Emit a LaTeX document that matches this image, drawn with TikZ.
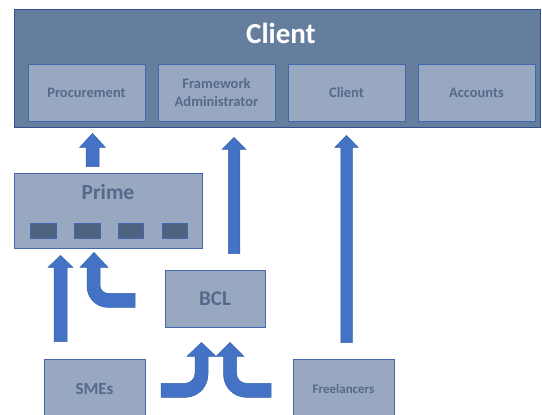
\documentclass[tikz,border=0pt]{standalone}
\usepackage{fontspec}
\setmainfont{Carlito}
\usetikzlibrary{calc}
\definecolor{outerfill}{HTML}{667E9E}
\definecolor{outerline}{HTML}{2F528F}
\definecolor{boxfill}{HTML}{98A8C0}
\definecolor{boxline}{HTML}{4468B0}
\definecolor{boxtext}{HTML}{56698A}
\definecolor{slotfill}{HTML}{4E6380}
\definecolor{arrowfill}{HTML}{4472C4}
\definecolor{arrowline}{HTML}{3562B0}
\newcommand\blockup[5]{%
  \filldraw[barrow] let \p1=#1, \p2=#2 in
    (\x1-#3,\y1) -- (\x1-#3,\y2-#5) -- (\x1-#4,\y2-#5) -- (\x1,\y2)
    -- (\x1+#4,\y2-#5) -- (\x1+#3,\y2-#5) -- (\x1+#3,\y1) -- cycle;}
\begin{document}
\begin{tikzpicture}[x=1pt,y=-1pt,
  outerbox/.style={draw=outerline, fill=outerfill, line width=0.9pt, inner sep=0pt},
  graybox/.style={draw=boxline, fill=boxfill, line width=0.8pt, inner sep=0pt,
    text=boxtext, align=center},
  sublabel/.style={font=\fontsize{14.5}{18}\selectfont\bfseries},
  slot/.style={draw=boxline, fill=slotfill, line width=0.6pt, inner sep=0pt,
    minimum width=25.5pt, minimum height=15pt},
  barrow/.style={fill=arrowfill, draw=arrowline, line width=0.5pt, line join=miter}]
\useasboundingbox (0,0) rectangle (542,415);
% Client container
\node[outerbox, minimum width=526pt, minimum height=118pt] (clientbox) at (277,68) {};
\node[text=white, font=\fontsize{29}{30}\selectfont\bfseries] (title) at (281,33) {Client};
\node[graybox, sublabel, minimum width=117pt, minimum height=57pt] (proc) at (86.5,92.5) {Procurement};
\node[graybox, sublabel, minimum width=117pt, minimum height=57pt] (fwa) at (216.5,92.5) {Framework\\Administrator};
\node[graybox, sublabel, minimum width=117pt, minimum height=57pt] (cli) at (346.5,92.5) {Client};
\node[graybox, sublabel, minimum width=117pt, minimum height=57pt] (acc) at (476.5,92.5) {Accounts};
% Prime
\node[graybox, minimum width=188pt, minimum height=75pt] (prime) at (108,210.5) {};
\node[text=boxtext, font=\fontsize{21.5}{24}\selectfont\bfseries] (primelabel) at (108,192) {Prime};
\node[slot] (s1) at (43.5,230.5) {};
\node[slot] (s2) at (87.2,230.5) {};
\node[slot] (s3) at (130.9,230.5) {};
\node[slot] (s4) at (174.6,230.5) {};
% BCL, SMEs, Freelancers
\node[graybox, font=\fontsize{21}{24}\selectfont\bfseries, minimum width=100pt, minimum height=57pt] (bcl) at (215,298.5) {BCL};
\node[graybox, font=\fontsize{17}{20}\selectfont\bfseries, minimum width=101pt, minimum height=60pt] (smes) at (94.5,389) {SMEs};
\node[graybox, font=\fontsize{13}{16}\selectfont\bfseries, minimum width=101pt, minimum height=60pt] (free) at (343.5,389) {Freelancers};
% straight arrows
\blockup{($(prime.north)+(-15.5,-6)$)}{($(clientbox.south)+(0,6)$)}{6.5pt}{13pt}{14pt}
\blockup{($(bcl.north)+(19,-16)$)}{($(clientbox.south)+(0,10)$)}{5.75pt}{12pt}{12pt}
\blockup{($(free.north)+(3,-16)$)}{($(clientbox.south)+(0,8)$)}{5.75pt}{11.75pt}{12pt}
\blockup{($(smes.north)+(-34,-17)$)}{($(prime.south)+(0,7)$)}{6.5pt}{12.5pt}{12pt}
% bent arrow into Prime
\begin{scope}[shift={($(prime.south)+(-14,4)$)}]
\filldraw[barrow] (41,41) -- (14,41) .. controls (9.58,41) and (6,37.42) .. (6,33)
  -- (6,15) -- (14,15) -- (0,0) -- (-14,15) -- (-7,15) -- (-7,34)
  .. controls (-7,45.6) and (2.4,55) .. (14,55) -- (41,55) -- cycle;
\end{scope}
% two bent arrows into BCL
\begin{scope}[shift={($(bcl.south)+(-13.5,15)$)}]
\filldraw[barrow] (-40.5,41) -- (-16.5,41) .. controls (-10.98,41) and (-6.5,36.52) .. (-6.5,31)
  -- (-6.5,14) -- (-14.5,14) -- (0,0) -- (14.5,14) -- (6.5,14) -- (6.5,32)
  .. controls (6.5,44.7) and (-3.8,55) .. (-16.5,55) -- (-40.5,55) -- cycle;
\end{scope}
\begin{scope}[shift={($(bcl.south)+(15,15)$)}]
\filldraw[barrow] (41,41) -- (16.5,41) .. controls (10.98,41) and (6.5,36.52) .. (6.5,31)
  -- (6.5,14) -- (14,14) -- (0,0) -- (-14,14) -- (-6.5,14) -- (-6.5,32)
  .. controls (-6.5,44.7) and (3.8,55) .. (16.5,55) -- (41,55) -- cycle;
\end{scope}
\end{tikzpicture}
\end{document}
